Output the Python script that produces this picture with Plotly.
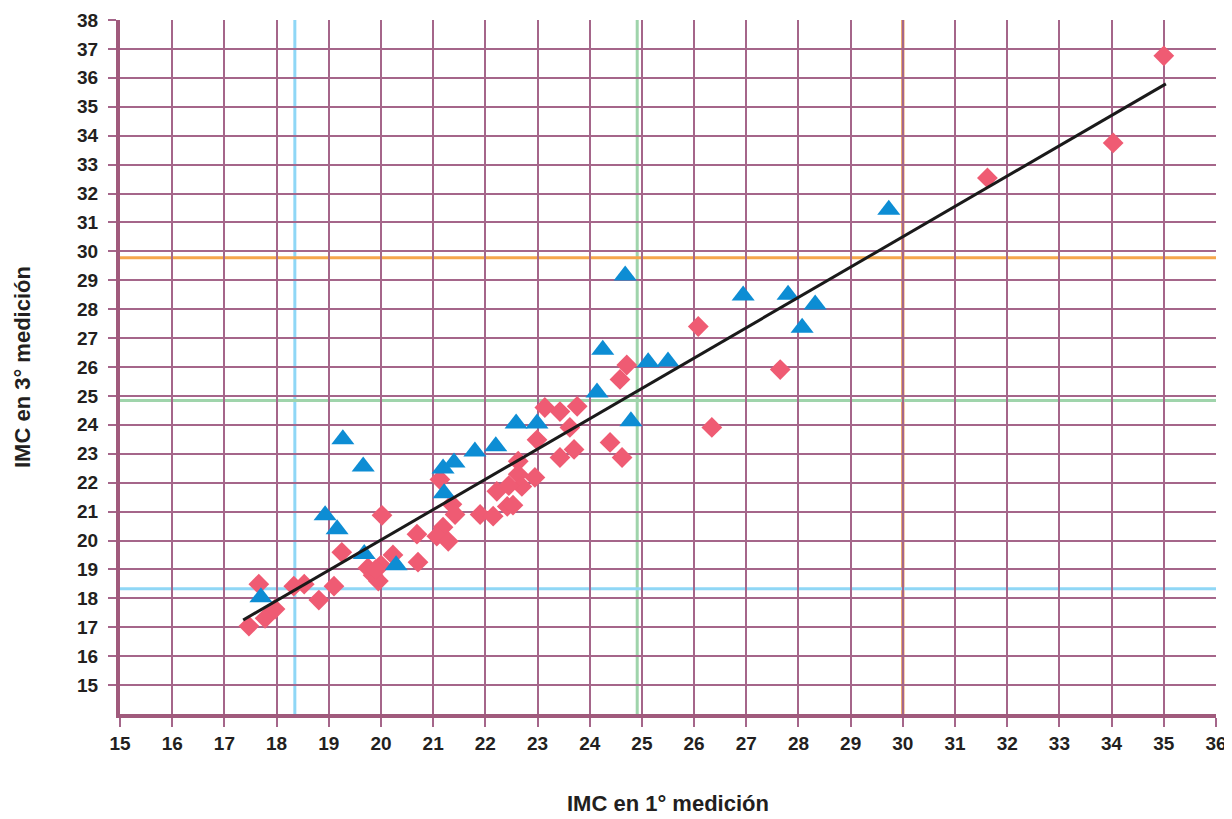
import plotly.graph_objects as go

# Blue triangles
tri_x = [17.70, 18.93, 19.16, 19.27, 19.66, 19.68, 20.29, 21.19, 21.40, 21.21,
         21.80, 22.20, 22.59, 22.99, 24.14, 24.25, 24.68, 24.79, 25.12, 25.50,
         26.94, 27.80, 28.07, 28.32, 29.73]
tri_y = [18.04, 20.87, 20.39, 23.50, 22.56, 19.53, 19.14, 22.49, 22.70, 21.63,
         23.08, 23.26, 24.05, 24.05, 25.12, 26.60, 29.16, 24.12, 26.16, 26.19,
         28.47, 28.50, 27.36, 28.16, 31.44]

# Pink diamonds
dia_x = [17.47, 17.66, 17.78, 17.97, 18.33, 18.53, 18.81, 19.10, 19.25, 20.02,
         19.75, 19.85, 19.95, 20.00, 19.90, 20.23, 20.71, 20.69,
         21.13, 21.36, 21.42, 21.19, 21.07, 21.29, 21.90, 22.15, 22.22, 22.42,
         22.53, 22.63, 22.63, 22.70, 22.95, 22.99, 22.45,
         23.14, 23.43, 23.76, 23.62, 23.70, 23.43, 24.39, 24.62, 24.58, 24.71,
         26.08, 27.65, 26.34, 31.62, 34.03, 35.00]
dia_y = [17.04, 18.49, 17.31, 17.63, 18.42, 18.49, 17.94, 18.42, 19.59, 20.87,
         19.05, 18.80, 18.60, 19.15, 19.00, 19.50, 19.25, 20.22,
         22.11, 21.25, 20.90, 20.46, 20.15, 19.97, 20.90, 20.84, 21.70, 21.18,
         21.22, 22.74, 22.29, 21.87, 22.18, 23.48, 21.90,
         24.60, 24.46, 24.64, 23.91, 23.15, 22.87, 23.39, 22.87, 25.57, 26.07,
         27.40, 25.91, 23.91, 32.54, 33.75, 36.76]

# Trend line endpoints
trend_x = [17.36, 35.04]
trend_y = [17.25, 35.79]

# Reference thresholds
vlines = [18.35, 24.91, 30.0]
hlines = [18.33, 24.84, 29.78]
vcolors = ["#8fd7f6", "#9fd4ab", "#e27a22"]
hcolors = ["#8fd7f6", "#9fd4ab", "#f6a64b"]

x_ticks = list(range(15, 37))
y_ticks = list(range(15, 39))

x_title = "IMC en 1° medición"
y_title = "IMC en 3° medición"

grid_col = "#a5668a"
axis_col = "#a05a7c"
font_fam = "Liberation Sans, Arial, sans-serif"
txt_col = "#231f20"

# page body has an 8px default margin -> size figure to fit the window
W, H = 1224, 811
L, R, T, B = 112, 16, 12, 105
plot_w = W - L - R
plot_h = H - T - B

fig = go.Figure()
fig.add_trace(go.Scatter(x=dia_x, y=dia_y, mode="markers",
                         marker=dict(symbol="diamond", size=16, color="#ef5b73",
                                     line=dict(width=0)), showlegend=False))
fig.add_trace(go.Scatter(x=tri_x, y=tri_y, mode="markers",
                         marker=dict(symbol="triangle-up", size=20, color="#0d8dd4",
                                     line=dict(width=0)), showlegend=False))
fig.add_trace(go.Scatter(x=trend_x, y=trend_y, mode="lines",
                         line=dict(color="#1a1a1a", width=3), showlegend=False))

for v, c in zip(vlines, vcolors):
    fig.add_shape(type="line", xref="x", yref="paper", x0=v, x1=v, y0=0, y1=1,
                  line=dict(color=c, width=3), layer="between")
for h, c in zip(hlines, hcolors):
    fig.add_shape(type="line", xref="paper", yref="y", x0=0, x1=1, y0=h, y1=h,
                  line=dict(color=c, width=3), layer="between")

fig.add_annotation(text="<b>" + x_title + "</b>", xref="paper", yref="paper",
                   x=0.5, y=-89 / plot_h, xanchor="center", yanchor="middle",
                   showarrow=False, font=dict(size=22, family=font_fam, color=txt_col))
fig.add_annotation(text="<b>" + y_title + "</b>", xref="paper", yref="paper",
                   x=-98 / plot_w, y=0.5, xanchor="center", yanchor="middle", textangle=-90,
                   showarrow=False, font=dict(size=22, family=font_fam, color=txt_col))

fig.update_layout(
    width=W, height=H,
    margin=dict(l=L, r=R, t=T, b=B),
    paper_bgcolor="white", plot_bgcolor="white",
    font=dict(family=font_fam, color=txt_col),
    xaxis=dict(range=[15, 36], tickvals=x_ticks, ticktext=[str(t) for t in x_ticks],
               automargin=False,
               showgrid=True, gridcolor=grid_col, gridwidth=1.5,
               showline=True, linecolor=axis_col, linewidth=4,
               ticks="outside", ticklen=9, tickcolor=grid_col, tickwidth=1.5,
               tickfont=dict(size=19, family=font_fam, color=txt_col, weight="bold"),
               zeroline=False),
    yaxis=dict(range=[14, 38], tickvals=y_ticks, ticktext=[str(t) for t in y_ticks],
               automargin=False,
               showgrid=True, gridcolor=grid_col, gridwidth=1.5,
               showline=True, linecolor=axis_col, linewidth=4,
               ticks="outside", ticklen=8, tickcolor=grid_col, tickwidth=1.5,
               ticklabelstandoff=6,
               tickfont=dict(size=19, family=font_fam, color=txt_col, weight="bold"),
               zeroline=False),
)

fig.write_html("out.html")
